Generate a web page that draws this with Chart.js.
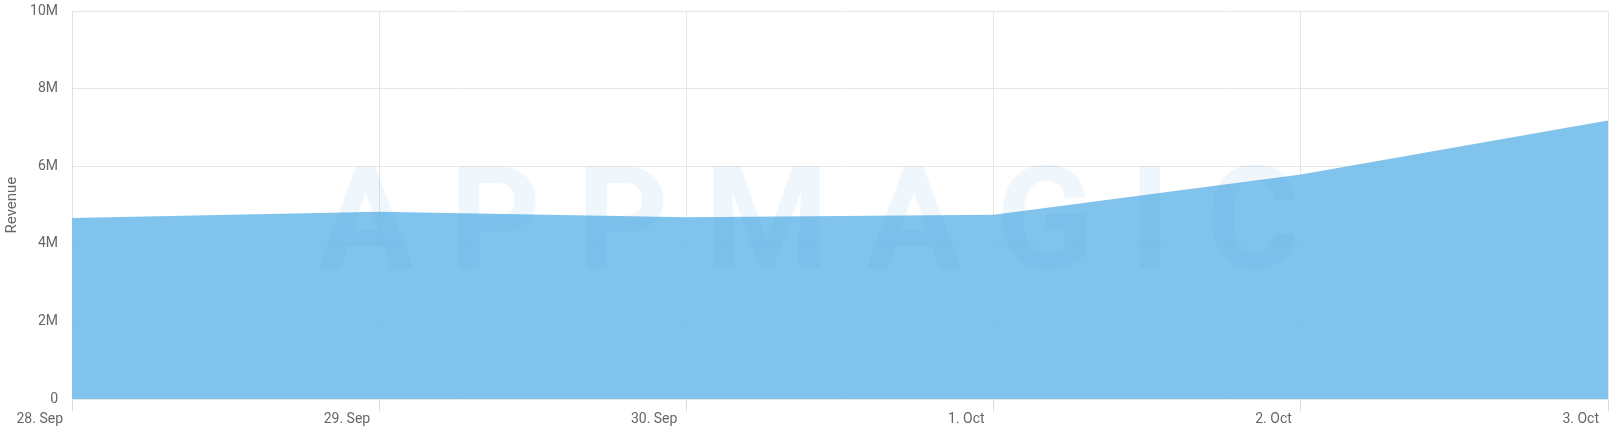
<!DOCTYPE html>
<html>
<head>
<meta charset="utf-8">
<script src="https://cdn.jsdelivr.net/npm/chart.js@4"></script>
<style>
  html, body { margin: 0; padding: 0; background: #fff; }
  #wrap { width: 1618px; height: 428px; }
</style>
</head>
<body>
<div id="wrap"><canvas id="revenueChart"></canvas></div>
<script>
// Chart data
const days = ["28. Sep", "29. Sep", "30. Sep", "1. Oct", "2. Oct", "3. Oct"];
const revenue = [4670000, 4830000, 4690000, 4750000, 5790000, 7180000];
const yTicks = [0, 2000000, 4000000, 6000000, 8000000, 10000000];

// Faint brand watermark drawn over the plot
const watermark = {
  id: "watermark",
  afterDatasetsDraw(chart) {
    const { ctx, chartArea } = chart;
    ctx.save();
    ctx.font = "bold 142px Roboto";
    ctx.letterSpacing = "36px";
    ctx.fillStyle = "rgba(70, 150, 220, 0.08)";
    ctx.textBaseline = "alphabetic";
    ctx.textAlign = "left";
    ctx.fillText("APPMAGIC", chartArea.left + 246, 268);
    ctx.restore();
  }
};

const ctx = document.getElementById("revenueChart").getContext("2d");
new Chart(ctx, {
  type: "line",
  data: {
    labels: days,
    datasets: [{
      label: "Revenue",
      data: revenue,
      fill: "origin",
      backgroundColor: "rgba(110, 187, 235, 0.88)",
      borderWidth: 0,
      pointRadius: 0,
      tension: 0
    }]
  },
  options: {
    responsive: true,
    maintainAspectRatio: false,
    animation: false,
    layout: { padding: { top: 11, right: 10, left: 0, bottom: 0 } },
    plugins: {
      legend: { display: false },
      tooltip: { enabled: false }
    },
    scales: {
      x: {
        offset: false,
        grid: { color: "#e6e6e6", tickLength: 12, tickColor: "#dcdcdc" },
        border: { display: false },
        ticks: {
          color: "#666",
          font: { family: "Roboto", size: 14 },
          align: "end",
          labelOffset: -9,
          padding: 0,
          maxRotation: 0,
          autoSkip: false
        }
      },
      y: {
        min: 0,
        max: 10000000,
        afterBuildTicks: (scale) => { scale.ticks = yTicks.map(v => ({ value: v })); },
        afterFit: (scale) => {
          scale.width = 72;
          // labels may overhang the plot edges, don't push the plot in
          scale.paddingTop = 0;
          scale.paddingBottom = 0;
        },
        grid: { color: "#e6e6e6", drawTicks: false },
        border: { color: "#e0e0e0" },
        ticks: {
          color: "#666",
          font: { family: "Roboto", size: 14 },
          padding: 14,
          callback: (v) => v === 0 ? "0" : (v / 1000000) + "M"
        },
        title: {
          display: true,
          text: "Revenue",
          color: "#666",
          font: { family: "Roboto", size: 15 },
          padding: { top: 3, bottom: 0 }
        }
      }
    }
  },
  plugins: [watermark]
});
</script>
</body>
</html>
